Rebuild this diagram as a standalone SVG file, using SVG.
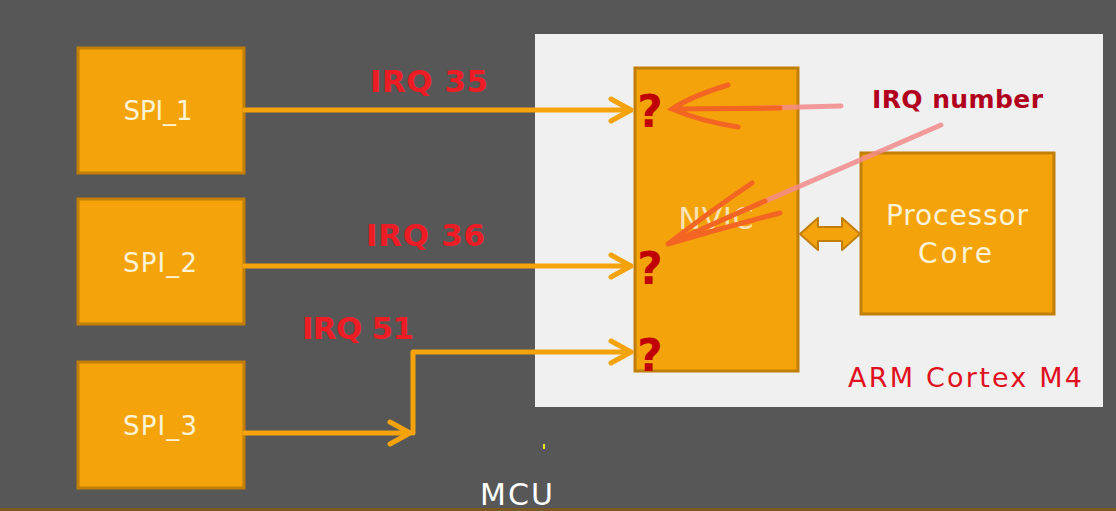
<svg xmlns="http://www.w3.org/2000/svg" width="1116" height="511" viewBox="0 0 1116 511">
<style>
.box{fill:#f5a30a;stroke:#c27f08;stroke-width:3}
.lbl{font-family:"DejaVu Sans",Verdana,sans-serif;fill:#fff3d6;text-anchor:middle}
.irq{font-family:"DejaVu Sans",Verdana,sans-serif;font-weight:bold;fill:#ee1c25}
.q{font-family:"DejaVu Sans",sans-serif;font-weight:bold;fill:#c00000;font-size:44px;text-anchor:middle}
.wire{fill:none;stroke:#f5a30a;stroke-width:5;stroke-linecap:round;stroke-linejoin:round}
.pen{fill:none;stroke:#f26522;stroke-width:5;stroke-linecap:round}
.pink{fill:none;stroke:#f28b8b;stroke-width:5;stroke-linecap:round;opacity:0.85}
</style>
<defs>
<marker id="chev" markerUnits="userSpaceOnUse" markerWidth="30" markerHeight="30" refX="0" refY="0" orient="auto" overflow="visible">
<path d="M-20,-11 L0,0 L-20,11" fill="none" stroke="#f5a30a" stroke-width="5" stroke-linecap="round" stroke-linejoin="round"/>
</marker>
</defs>
<rect width="1116" height="511" fill="#575757"/>
<rect x="0" y="508" width="1116" height="3" fill="#7a5a20"/>
<g id="mcu-panel">
<rect x="535" y="34" width="568" height="373" fill="#f0f0f0"/>
<text x="848" y="387" font-family="'DejaVu Sans',Verdana,sans-serif" font-size="27" fill="#e0101e" textLength="234">ARM Cortex M4</text>
</g>
<text x="480" y="505" font-family="'DejaVu Sans',Verdana,sans-serif" font-size="30" fill="#ffffff" textLength="73">MCU</text>
<g id="spi1"><rect class="box" x="78" y="48" width="166" height="125"/><text class="lbl" x="158" y="120" font-size="26" textLength="69">SPI_1</text></g>
<g id="spi2"><rect class="box" x="78" y="199" width="166" height="125"/><text class="lbl" x="160" y="272" font-size="26" textLength="74">SPI_2</text></g>
<g id="spi3"><rect class="box" x="78" y="362" width="166" height="126"/><text class="lbl" x="160" y="435" font-size="26" textLength="74">SPI_3</text></g>
<g id="nvic"><rect class="box" x="635" y="68" width="163" height="303"/><text x="716" y="229" font-family="'DejaVu Sans',Verdana,sans-serif" font-size="30" fill="#fbe3b8" text-anchor="middle" textLength="75">NVIC</text></g>
<g id="core"><rect class="box" x="861" y="153" width="193" height="161"/>
<text class="lbl" x="957" y="225" font-size="28" textLength="142">Processor</text>
<text class="lbl" x="955" y="263" font-size="28" textLength="74">Core</text></g>
<g id="connectors">
<path class="wire" d="M245,110 H631" marker-end="url(#chev)"/>
<path class="wire" d="M245,266 H631" marker-end="url(#chev)"/>
<path class="wire" d="M245,433 H410" marker-end="url(#chev)"/>
<path class="wire" d="M413,433 V352 H631" marker-end="url(#chev)"/>
<path d="M800,234 L818,218 L818,227 L842,227 L842,218 L860,234 L842,250 L842,241 L818,241 L818,250 Z" fill="#f5a30a" stroke="#c27f08" stroke-width="2" stroke-linejoin="round"/>
</g>
<g id="irq-labels">
<text class="irq" x="370" y="92" font-size="31" textLength="118">IRQ 35</text>
<text class="irq" x="366" y="246" font-size="31" textLength="119">IRQ 36</text>
<text class="irq" x="302" y="339" font-size="31" textLength="112">IRQ 51</text>
</g>
<g id="questions">
<text class="q" x="650" y="127">?</text>
<text class="q" x="650" y="284">?</text>
<text class="q" x="650" y="371">?</text>
</g>
<g id="annotation">
<text x="872" y="108" font-family="'DejaVu Sans',Verdana,sans-serif" font-weight="bold" font-size="25" fill="#b0001e" textLength="171">IRQ number</text>
<path class="pink" d="M841,106 L760,108"/>
<path class="pen" d="M780,108 L672,109 M728,85 Q692,96 672,109 Q700,121 738,127"/>
<path class="pink" d="M941,125 L740,212"/>
<path class="pen" d="M765,201 L668,244 M752,183 Q712,210 668,244 Q722,228 780,213"/>
<rect x="543" y="444" width="2" height="5" fill="#e8e800"/>
</g>
</svg>
